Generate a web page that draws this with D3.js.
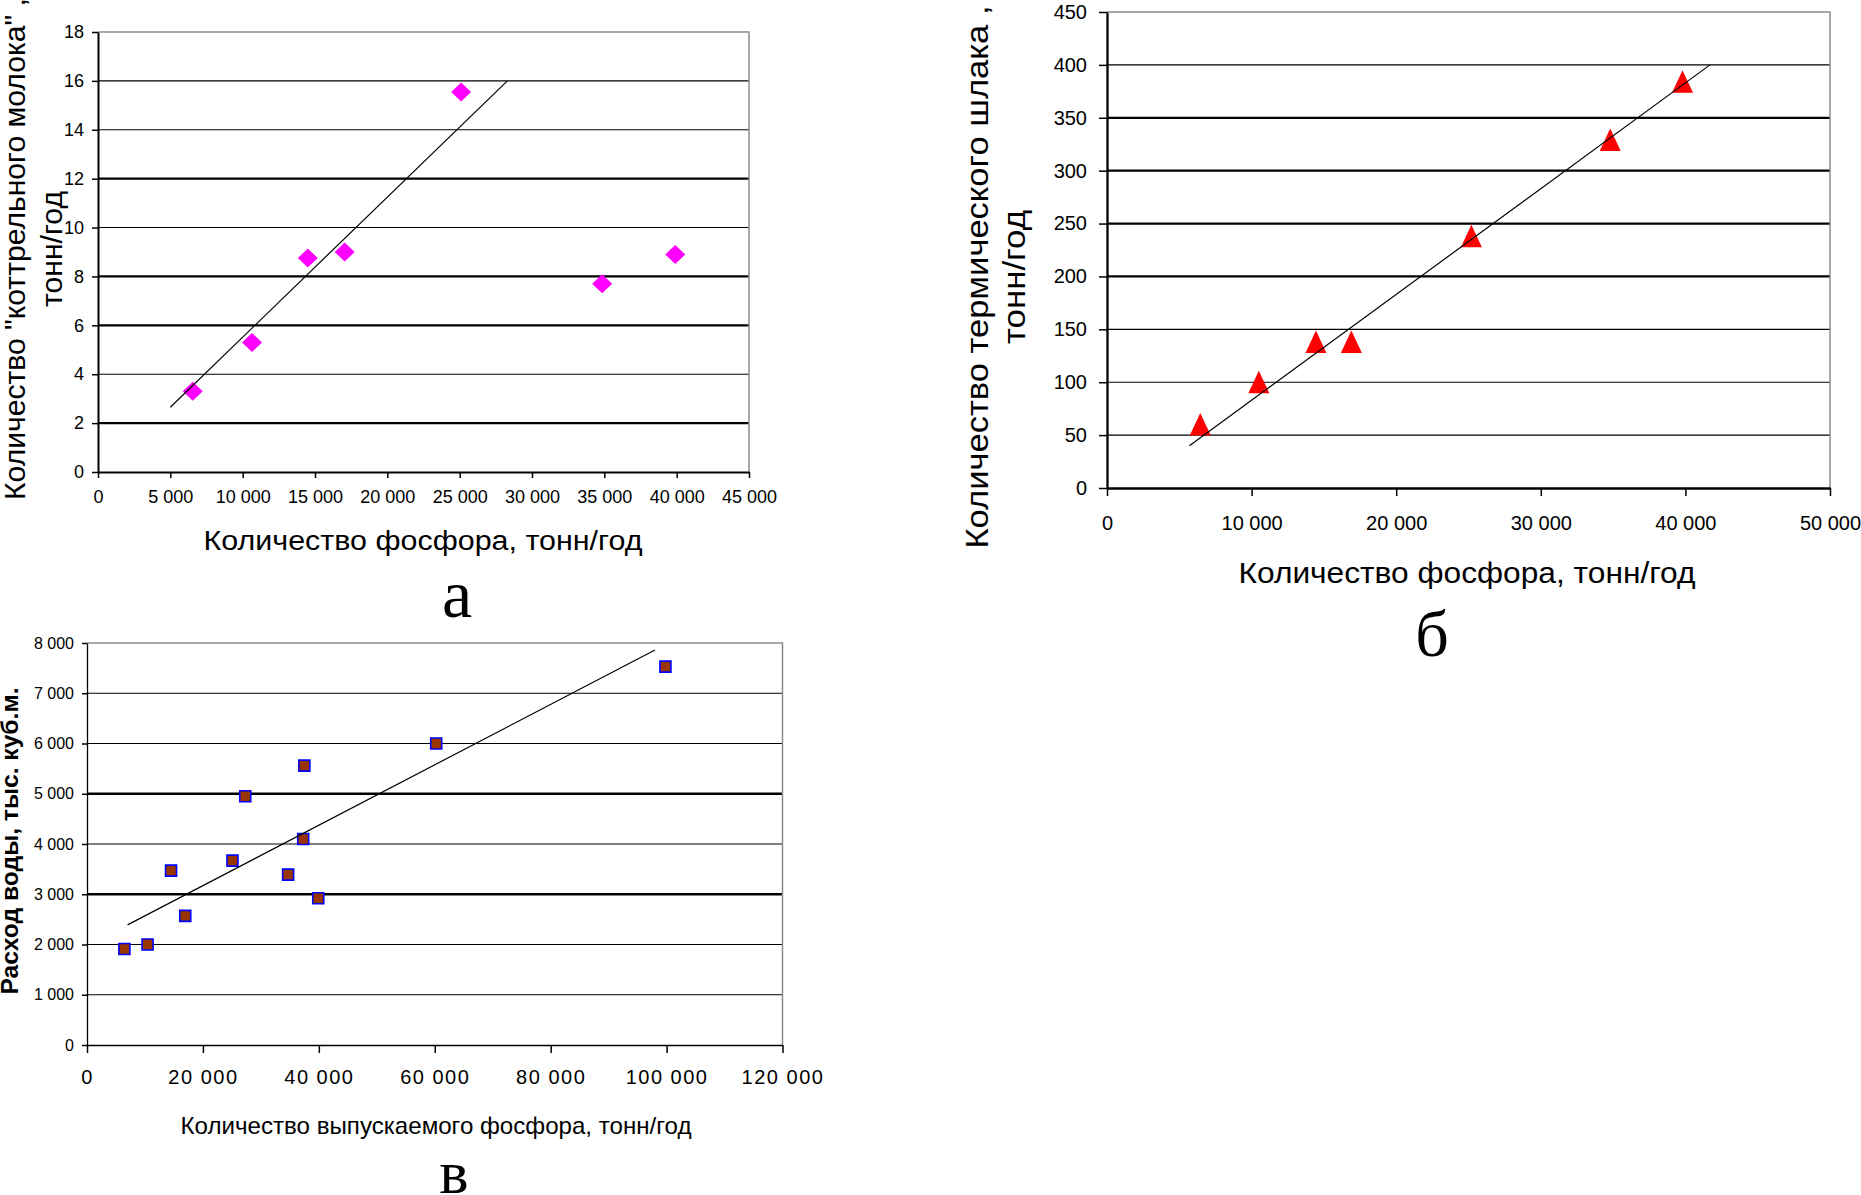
<!DOCTYPE html>
<html>
<head>
<meta charset="utf-8">
<script src="https://cdn.jsdelivr.net/npm/d3@7"></script>
<style>
  body { margin: 0; background: #fff; }
  svg { display: block; }
  text { font-family: "Liberation Sans", Arial, sans-serif; fill: #000; }
  .label { font-family: "Liberation Serif", "Times New Roman", serif; }
</style>
</head>
<body>
<svg id="chart" width="1861" height="1195"></svg>
<script>
// а: коттрельное молоко
var phosA = [6550, 10650, 14500, 17050, 25100, 34850, 39900];
var milkA = [3.3, 5.3, 8.75, 9.0, 15.55, 7.7, 8.9];
var trendAx = [5000, 28300];
var trendAy = [2.65, 16];

// б: термический шлак
var phosB = [6450, 10500, 14450, 16900, 25200, 34800, 39800];
var slagB = [60, 100, 138, 138, 238, 329, 384];
var trendBx = [5700, 41700];
var trendBy = [40, 400];

// в: расход воды
var phosC = [6450, 10450, 14500, 16950, 25100, 27300, 34700, 37300, 37500, 39900, 60250, 99800];
var waterC = [1910, 2000, 3470, 2570, 3670, 4950, 3390, 4100, 5560, 2920, 6000, 7530];
var trendCx = [7000, 98000];
var trendCy = [2390, 7860];

var svg = d3.select("#chart");
var fmt = d3.formatLocale({decimal: ",", thousands: " ", grouping: [3], currency: ["", ""]}).format(",");

function drawChart(c) {
    var g = svg.append("g");
    var x = d3.scaleLinear().domain(c.xDomain).range([c.left, c.right]);
    var y = d3.scaleLinear().domain(c.yDomain).range([c.bottom, c.top]);
    var xTicks = d3.range(c.xDomain[0], c.xDomain[1] + c.xStep / 2, c.xStep);
    var yTicks = d3.range(c.yDomain[0], c.yDomain[1] + c.yStep / 2, c.yStep);

    // gridlines (the top one is drawn as the grey frame)
    g.append("g").selectAll("line")
        .data(yTicks.slice(1, -1))
        .enter().append("line")
        .attr("x1", c.left).attr("x2", c.right)
        .attr("y1", function(d) { return y(d); })
        .attr("y2", function(d) { return y(d); })
        .attr("stroke", "#000")
        .attr("stroke-width", function(d) { return c.heavy.indexOf(d) >= 0 ? 2.3 : 1.1; });

    // grey frame on top and right
    g.append("path")
        .attr("d", "M" + x(c.xDomain[0]) + "," + y(c.yDomain[1]) + "H" + x(c.xDomain[1]) + "V" + y(c.yDomain[0]))
        .attr("fill", "none")
        .attr("stroke", "#8c8c8c")
        .attr("stroke-width", 1.5);

    // axes
    var gx = g.append("g")
        .attr("transform", "translate(0," + c.bottom + ")")
        .call(d3.axisBottom(x).tickValues(xTicks).tickFormat(fmt)
            .tickSizeInner(c.xTick).tickSizeOuter(0).tickPadding(c.xPad));
    var gy = g.append("g")
        .attr("transform", "translate(" + c.left + ",0)")
        .call(d3.axisLeft(y).tickValues(yTicks).tickFormat(fmt)
            .tickSizeInner(c.yTick).tickSizeOuter(0).tickPadding(c.yPad));

    [gx, gy].forEach(function(a) {
        a.attr("font-family", null).attr("font-size", null);
        a.select(".domain").attr("stroke-width", c.axisWidth);
        a.selectAll(".tick line").attr("stroke-width", c.tickWidth);
    });
    gx.selectAll("text").style("font-size", c.xFont + "px").attr("letter-spacing", c.xSpacing);
    gy.selectAll("text").style("font-size", c.yFont + "px");

    // markers
    g.append("g").selectAll("path")
        .data(d3.zip(c.xs, c.ys))
        .enter().append("path")
        .attr("transform", function(d) { return "translate(" + x(d[0]) + "," + y(d[1]) + ")"; })
        .attr("d", c.marker)
        .attr("fill", c.fill)
        .attr("stroke", c.stroke)
        .attr("stroke-width", c.strokeWidth);

    // linear trend line
    g.append("path")
        .datum(d3.zip(c.trendX, c.trendY))
        .attr("d", d3.line().x(function(d) { return x(d[0]); }).y(function(d) { return y(d[1]); }))
        .attr("fill", "none")
        .attr("stroke", "#000")
        .attr("stroke-width", 1.2);

    // x title
    g.append("text")
        .attr("x", c.xTitle.x).attr("y", c.xTitle.y)
        .attr("text-anchor", "middle")
        .style("font-size", c.xTitle.size + "px")
        .attr("textLength", c.xTitle.len)
        .attr("lengthAdjust", "spacingAndGlyphs")
        .text(c.xTitle.text);

    // y title, one or two lines
    c.yTitle.lines.forEach(function(line, i) {
        g.append("text")
            .attr("transform", "translate(" + c.yTitle.x[i] + "," + c.yTitle.y + ") rotate(-90)")
            .attr("text-anchor", "middle")
            .style("font-size", c.yTitle.size + "px")
            .style("font-weight", c.yTitle.weight)
            .attr("textLength", c.yTitle.len[i])
            .attr("lengthAdjust", "spacingAndGlyphs")
            .text(line);
    });

    // panel letter
    g.append("text")
        .attr("class", "label")
        .attr("x", c.label.x).attr("y", c.label.y)
        .attr("text-anchor", "middle")
        .style("font-size", c.label.size + "px")
        .text(c.label.text);
}

var diamond = "M0,-9.5L10,0L0,9.5L-10,0Z";
var triangle = "M0,-11.5L10.5,11L-10.5,11Z";
var square = "M-5.5,-5.5H5.5V5.5H-5.5Z";

drawChart({
    left: 98, right: 749, top: 32, bottom: 472,
    xDomain: [0, 45000], xStep: 5000, yDomain: [0, 18], yStep: 2,
    heavy: [12, 8, 6, 2],
    axisWidth: 2, tickWidth: 1.5,
    xTick: 6, xPad: 12, xFont: 18, xSpacing: 0,
    yTick: 6, yPad: 8, yFont: 18,
    xs: phosA, ys: milkA, trendX: trendAx, trendY: trendAy,
    marker: diamond, fill: "#ff00ff", stroke: "none", strokeWidth: 0,
    xTitle: {text: "Количество фосфора, тонн/год", x: 423, y: 550, size: 27, len: 439},
    yTitle: {lines: ["Количество \"коттрельного молока\" ,", "тонн/год"], x: [25, 62], y: 249,
             size: 30, weight: "normal", len: [502, 116]},
    label: {text: "а", x: 457, y: 617, size: 68}
});

drawChart({
    left: 1107, right: 1830, top: 12, bottom: 488,
    xDomain: [0, 50000], xStep: 10000, yDomain: [0, 450], yStep: 50,
    heavy: [350, 300, 250, 200],
    axisWidth: 2.3, tickWidth: 1.5,
    xTick: 8, xPad: 20, xFont: 20, xSpacing: 0,
    yTick: 8, yPad: 12, yFont: 20,
    xs: phosB, ys: slagB, trendX: trendBx, trendY: trendBy,
    marker: triangle, fill: "#ff0000", stroke: "none", strokeWidth: 0,
    xTitle: {text: "Количество фосфора, тонн/год", x: 1467, y: 583, size: 29, len: 457},
    yTitle: {lines: ["Количество термического шлака ,", "тонн/год"], x: [988, 1025], y: 277,
             size: 31, weight: "normal", len: [543, 134]},
    label: {text: "б", x: 1432, y: 656, size: 66}
});

drawChart({
    left: 87, right: 782.5, top: 643, bottom: 1045,
    xDomain: [0, 120000], xStep: 20000, yDomain: [0, 8000], yStep: 1000,
    heavy: [5000, 3000],
    axisWidth: 1.3, tickWidth: 1.5,
    xTick: 8, xPad: 17, xFont: 20, xSpacing: 1.5,
    yTick: 5, yPad: 8, yFont: 16,
    xs: phosC, ys: waterC, trendX: trendCx, trendY: trendCy,
    marker: square, fill: "#993300", stroke: "#0000ff", strokeWidth: 1.6,
    xTitle: {text: "Количество выпускаемого фосфора, тонн/год", x: 436, y: 1134, size: 24, len: 511},
    yTitle: {lines: ["Расход воды, тыс. куб.м."], x: [18], y: 841,
             size: 23, weight: "bold", len: [307]},
    label: {text: "в", x: 454, y: 1193, size: 62}
});
</script>
</body>
</html>
